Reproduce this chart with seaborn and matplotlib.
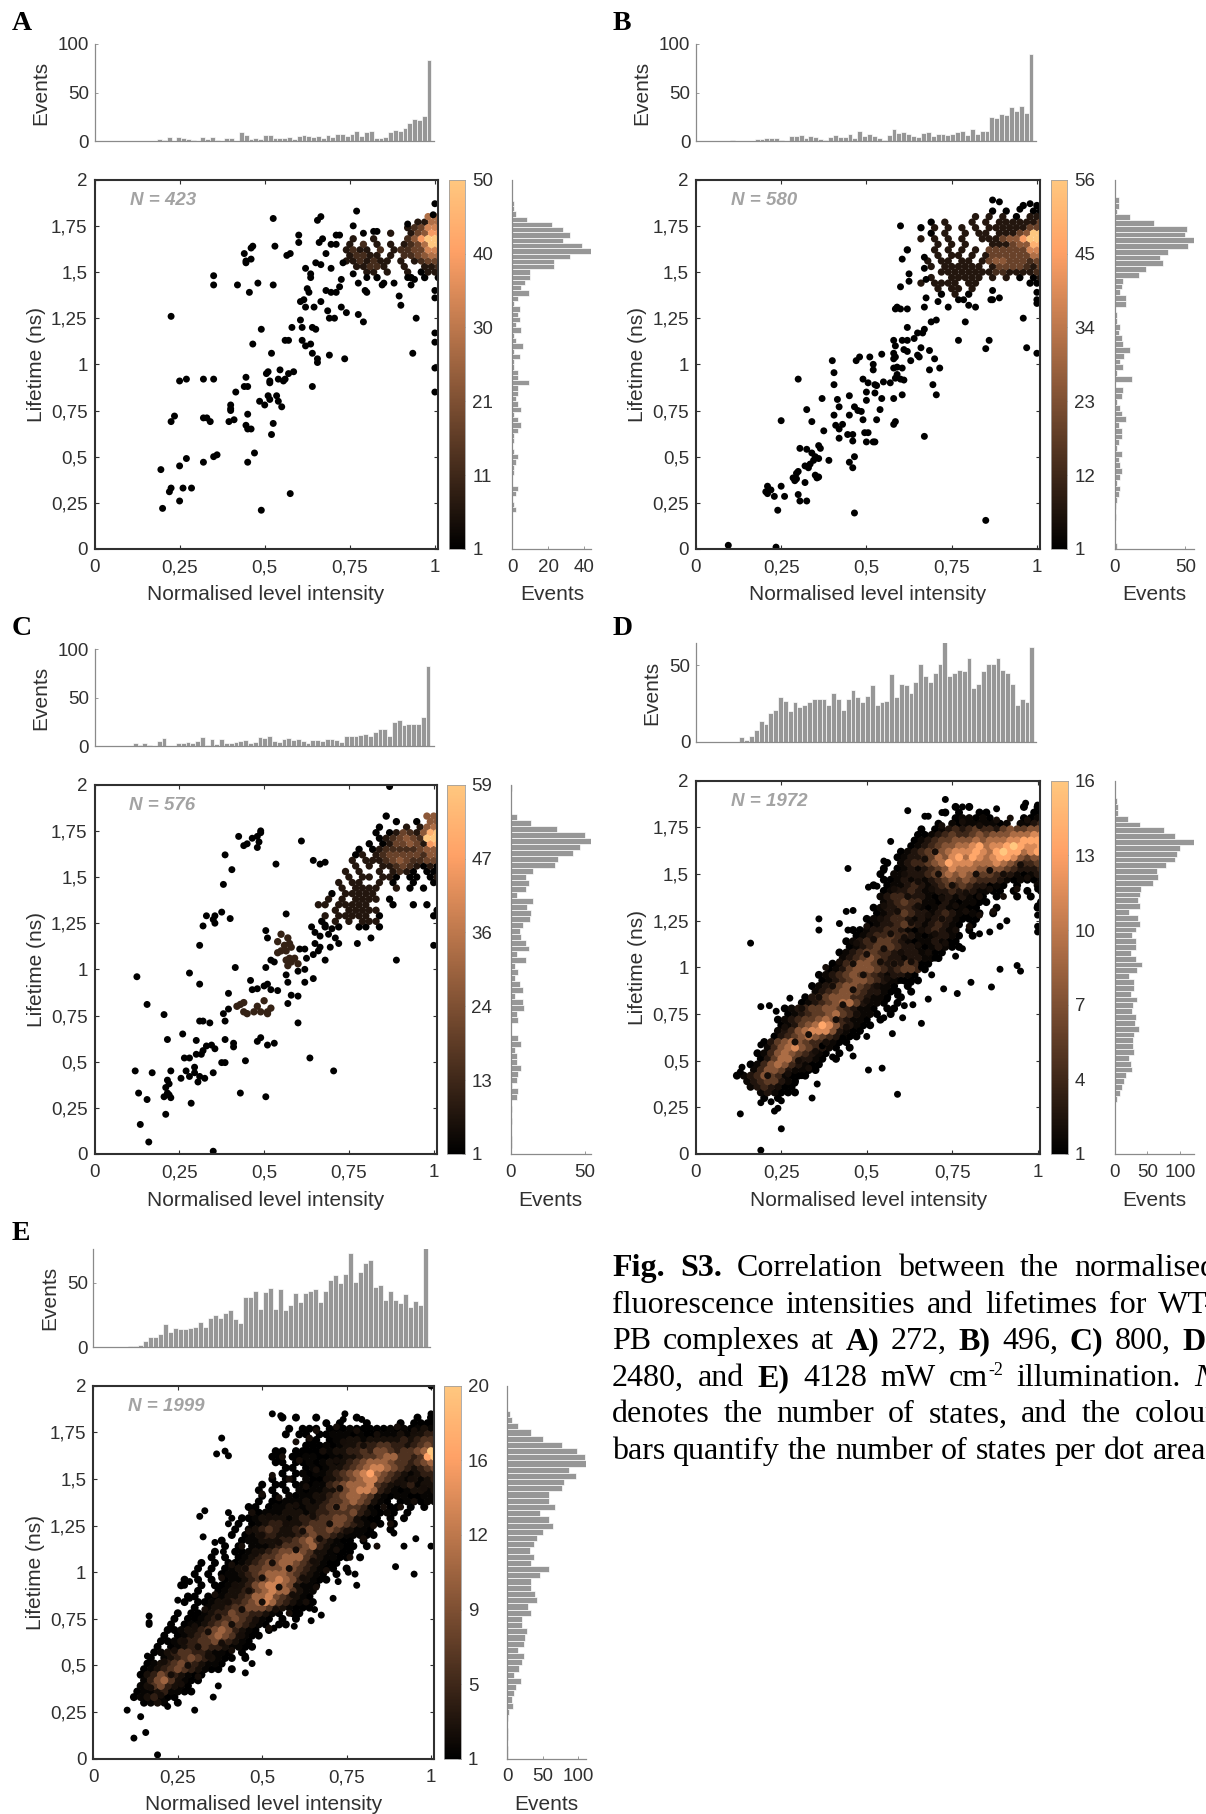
import numpy as np
import matplotlib
matplotlib.use("Agg")
import matplotlib.pyplot as plt
import seaborn as sns

W, H = 1206, 1814
sns.set_style("ticks")
plt.rcParams['font.family'] = ['Liberation Sans', 'DejaVu Sans']
DARK = '#303030'
BAR = '#979797'

X_TICKS = [0, .25, .5, .75, 1]
X_LABELS = ['0', '0,25', '0,5', '0,75', '1']
Y_TICKS = [0, .25, .5, .75, 1, 1.25, 1.5, 1.75, 2]
Y_LABELS = ['0', '0,25', '0,5', '0,75', '1', '1,25', '1,5', '1,75', '2']

# ---- top histograms (events per intensity bin, first bin at 0) ----
A_top = [0]*13 + [2,1,4,0,4,3,2,1,0,4,2,4,1,0,3,3,0,9,6,2,3,2,6,6,3,3,3,4,2,5,6,5,4,5,3,6,4,7,7,5,7,11,5,9,11,3,3,4,9,12,11,14,19,23,22,26,84]
B_top = [0]*7 + [1,0,0,0,0,2,2,3,3,3,1,0,5,5,6,3,5,4,2,1,4,6,4,4,7,3,11,5,7,5,3,1,6,13,8,9,7,5,4,8,9,5,7,7,6,7,9,11,6,13,7,10,10,25,24,28,27,35,31,36,29,90]
C_top = [0]*8 + [3,1,3,1,0,5,8,0,0,3,3,4,3,5,9,1,7,2,7,3,3,4,5,6,3,4,9,8,10,5,4,7,8,6,7,5,3,6,6,5,7,7,6,4,11,10,11,12,13,11,15,18,18,11,25,27,22,23,23,23,30,82]
D_top = [0]*9 + [3,1,4,8,14,12,19,21,29,27,20,26,23,24,26,28,28,28,24,32,28,21,28,34,29,26,30,37,24,26,27,44,29,38,37,32,39,51,43,39,45,51,65,43,45,47,46,55,35,38,46,51,51,55,47,45,38,24,28,26,62]
E_top = [0]*7 + [1,1,2,5,8,8,10,18,12,15,14,14,15,16,20,16,23,25,23,27,29,22,19,39,39,44,30,43,46,30,45,29,33,42,35,42,44,45,35,44,52,56,50,57,73,51,58,65,68,47,48,37,44,37,34,41,31,36,33,77]

# ---- right histograms (events per lifetime bin, listed from 2 ns downward) ----
A_right = [0,0,0,0,1,1,2,8,22,28,32,28,39,44,32,23,23,10,10,7,5,9,3,1,4,3,4,2,5,1,2,6,1,4,1,1,3,3,9,3,3,2,3,5,1,3,5,3,1,1,0,1,3,2,1,1,0,0,3,2,0,1,2,0,0,0,0,0,0,0]
B_right = [0,0,0,3,3,2,11,28,51,50,56,52,38,32,34,22,17,6,5,4,8,8,0,2,2,4,3,5,6,11,7,4,6,2,12,0,6,5,2,4,5,8,3,5,5,3,2,5,3,4,5,4,2,4,3,2,1,0,1,0,0,0,0,2]
C_right = [1,0,0,0,0,4,14,31,50,54,47,42,32,30,15,10,12,10,4,15,11,14,13,8,6,7,10,12,4,10,3,5,3,6,8,3,8,9,4,5,0,0,5,7,3,4,4,7,5,4,1,5,4,0,1,0,1,0,0,1,1,0]
D_right = [0,0,0,3,5,5,20,38,75,92,121,100,95,92,78,65,66,59,40,38,36,39,22,35,39,32,27,32,32,25,32,42,34,22,30,30,25,34,28,27,33,31,37,29,28,28,30,22,25,26,18,14,12,8,3,1,1,1,0,1,0,0,1,0]
E_right = [0,0,0,0,4,6,15,33,50,77,98,109,110,87,96,80,77,58,59,67,46,59,64,50,42,37,32,38,33,59,46,33,34,39,42,29,34,20,20,28,25,23,15,24,20,16,9,19,12,9,6,8,2,1,0,1,1,0,1,1]

# ---- isolated states (intensity, lifetime) ----
A_pts = [(1.0,1.87),(.995,1.81),(.77,1.83),(.525,1.79),(.665,1.80),(.655,1.78),(.76,1.75),(.92,1.76),(.83,1.72),(.82,1.72),(.60,1.70),(.60,1.66),(.66,1.66),(.67,1.68),(.79,1.71),(.71,1.70),(.72,1.70),(.695,1.65),(.71,1.65),(.53,1.64),(.46,1.63),(.465,1.64),(.44,1.60),(.46,1.57),(.445,1.56),(.445,1.55),(.565,1.59),(.575,1.60),(.68,1.60),(.62,1.52),(.635,1.49),(.635,1.47),(.65,1.55),(.665,1.54),(.695,1.52),(.35,1.48),(.35,1.43),(.42,1.43),(.455,1.39),(.48,1.44),(.525,1.43),(.625,1.41),(.63,1.39),(.68,1.40),(.695,1.39),(.71,1.39),(.72,1.42),(.725,1.46),(.73,1.55),(.775,1.44),(.76,1.49),(.80,1.47),(.80,1.39),(.795,1.40),(.85,1.44),(.845,1.43),(.88,1.44),(.90,1.32),(.895,1.37),(.93,1.43),(.92,1.47),(.94,1.46),(1.0,1.40),(1.0,1.36),(.605,1.34),(.615,1.35),(.62,1.31),(.645,1.31),(.665,1.34),(.685,1.29),(.69,1.25),(.705,1.25),(.725,1.31),(.74,1.28),(.775,1.27),(.79,1.23),(.945,1.25),(.225,1.26),(.49,1.19),(.58,1.20),(.605,1.24),(.61,1.20),(.64,1.20),(.65,1.19),(.465,1.11),(.56,1.13),(.57,1.13),(.61,1.13),(.62,1.10),(.635,1.11),(.64,1.06),(.655,1.03),(.655,1.01),(.69,1.05),(.735,1.03),(.52,1.06),(.935,1.06),(1.0,1.17),(1.0,1.12),(1.0,.98),(1.0,.85),(.545,.97),(.51,.96),(.505,.95),(.585,.96),(.57,.95),(.56,.92),(.515,.91),(.515,.90),(.54,.92),(.555,.91),(.25,.91),(.27,.92),(.32,.92),(.35,.92),(.445,.93),(.44,.88),(.45,.88),(.415,.85),(.64,.88),(.51,.83),(.515,.81),(.535,.83),(.54,.80),(.485,.80),(.50,.78),(.55,.77),(.40,.78),(.40,.76),(.40,.75),(.225,.69),(.235,.72),(.32,.71),(.33,.71),(.34,.69),(.395,.69),(.41,.70),(.45,.73),(.445,.67),(.46,.65),(.45,.65),(.525,.68),(.52,.62),(.47,.52),(.45,.47),(.36,.51),(.35,.50),(.32,.47),(.27,.49),(.25,.45),(.195,.43),(.225,.33),(.26,.33),(.285,.33),(.22,.31),(.25,.26),(.20,.22),(.575,.30),(.49,.21)]
B_pts = [(.095,.02),(.235,.01),(.85,.155),(.465,.195),(.24,.21),(.21,.34),(.205,.31),(.21,.30),(.22,.32),(.25,.34),(.23,.285),(.26,.285),(.30,.295),(.305,.26),(.325,.26),(.285,.385),(.29,.37),(.295,.38),(.30,.42),(.295,.41),(.32,.36),(.32,.45),(.33,.44),(.335,.46),(.345,.48),(.35,.40),(.355,.385),(.36,.39),(.39,.48),(.45,.47),(.46,.44),(.465,.50),(.305,.545),(.325,.54),(.34,.52),(.35,.50),(.36,.49),(.36,.56),(.365,.545),(.375,.64),(.25,.695),(.34,.69),(.325,.755),(.30,.92),(.37,.815),(.405,.89),(.405,.955),(.40,1.02),(.405,.725),(.415,.81),(.42,.77),(.41,.67),(.42,.65),(.43,.675),(.42,.60),(.445,.62),(.46,.62),(.46,.585),(.45,.83),(.45,.725),(.465,.77),(.475,.75),(.485,.745),(.49,.70),(.495,.63),(.505,.63),(.50,.58),(.52,.58),(.525,.58),(.50,.805),(.50,.85),(.525,.845),(.53,.70),(.54,.755),(.545,.815),(.58,.675),(.585,.69),(.58,.815),(.605,.835),(.67,.61),(.49,.92),(.505,.90),(.525,.89),(.53,.885),(.55,.905),(.57,.90),(.585,.925),(.59,.945),(.60,.92),(.61,.915),(.58,.98),(.59,.985),(.605,.98),(.52,.97),(.52,1.0),(.51,1.04),(.47,1.02),(.48,1.04),(.545,1.055),(.58,1.06),(.585,1.04),(.58,1.03),(.585,1.10),(.58,1.13),(.605,1.13),(.62,1.13),(.61,1.08),(.62,1.07),(.65,1.05),(.64,1.14),(.63,1.02),(.655,1.04),(.66,1.09),(.685,1.075),(.70,1.03),(.685,.97),(.715,.98),(.695,.89),(.705,.835),(.65,1.17),(.665,1.17),(.67,1.19),(.69,1.23),(.705,1.24),(.62,1.20),(.60,1.30),(.585,1.30),(.59,1.31),(.62,1.30),(.67,1.31),(.675,1.36),(.71,1.34),(.60,1.42),(.60,1.75),(.605,1.57),(.625,1.49),(.625,1.45),(.675,1.46),(.67,1.52),(.67,1.58),(.74,1.31),(.77,1.13),(.79,1.23),(.82,1.31),(.85,1.085),(.86,1.13),(.96,1.25),(.97,1.09),(1.0,1.06),(1.0,1.33),(1.0,1.35),(1.0,1.39),(.87,1.35),(.865,1.35),(.89,1.36),(.87,1.4),(.77,1.35),(.785,1.35),(.80,1.32),(.87,1.89),(.89,1.88),(.98,1.87),(.95,1.84)]
C_pts = [(.87,1.99),(.35,.015),(.16,.065),(.135,.16),(.21,.215),(.13,.33),(.155,.295),(.205,.31),(.22,.32),(.225,.305),(.215,.33),(.21,.36),(.215,.40),(.22,.38),(.285,.275),(.43,.33),(.505,.31),(.635,.52),(.705,.45),(.12,.45),(.17,.44),(.225,.45),(.255,.41),(.265,.52),(.28,.52),(.27,.45),(.28,.42),(.295,.47),(.295,.44),(.305,.39),(.31,.42),(.325,.41),(.35,.44),(.30,.54),(.315,.54),(.32,.56),(.33,.585),(.345,.59),(.355,.57),(.375,.495),(.385,.495),(.445,.505),(.26,.65),(.30,.615),(.215,.62),(.385,.62),(.41,.60),(.41,.58),(.48,.61),(.49,.63),(.51,.59),(.53,.60),(.205,.755),(.155,.81),(.125,.96),(.31,.72),(.32,.72),(.34,.71),(.38,.76),(.385,.72),(.395,.785),(.395,.87),(.46,.94),(.465,.89),(.48,.895),(.50,.91),(.51,.92),(.52,.89),(.54,.885),(.57,.815),(.58,.86),(.60,.855),(.60,.71),(.415,1.01),(.28,.98),(.31,.92),(.31,1.13),(.32,1.235),(.33,1.29),(.35,1.27),(.355,1.25),(.355,1.29),(.375,1.31),(.40,1.275),(.38,1.46),(.405,1.54),(.385,1.62),(.425,1.72),(.44,1.67),(.45,1.68),(.465,1.71),(.48,1.72),(.485,1.69),(.49,1.75),(.49,1.74),(.48,1.66),(.535,1.57),(.505,1.21),(.51,1.17),(.565,1.30),(.61,1.695),(.645,1.59),(.665,1.57),(.68,1.58),(.505,1.01),(.52,1.05),(.53,1.04),(.57,.93),(.565,.97),(.60,.99),(.62,.93),(.62,1.0),(.645,.95),(.625,1.06),(.62,1.11),(.605,1.11),(.64,1.23),(.65,1.2),(.645,1.08),(.65,1.14),(.665,1.12),(.66,1.1),(.68,1.05),(.695,1.12),(.72,1.14),(.665,1.18),(.68,1.24),(.69,1.19),(.70,1.22),(.71,1.17),(.775,1.14),(.815,1.17),(.89,1.05),(1.0,1.13)]
D_pts = [(.16,1.13),(.445,1.53),(.36,1.26),(.36,1.2),(.42,1.235),(.44,1.3),(.46,1.305),(.445,1.2),(.57,1.675),(.505,1.43),(.53,1.435),(.55,1.57),(.55,1.52),(.62,1.84),(.67,1.81),(.68,1.81),(.72,1.83),(.88,1.85),(.94,1.01),(.95,.98),(.89,.99),(.805,.92),(.865,.895),(.765,.86),(.725,.885),(.68,.83),(.66,.70),(.635,.80),(.61,.795),(.605,.73),(.59,.32),(.545,.46),(.505,.45),(.46,.525),(.575,.645),(.34,.3),(.355,.375),(.25,.135),(.19,.02),(.13,.215),(.19,.275),(.22,.28),(.23,.23),(.24,.245),(.25,.285),(.19,.585),(.19,.79),(.215,.795),(.235,.765),(.275,.835),(.13,.44),(.135,.465),(1.0,1.87),(.965,1.88),(1.0,1.19),(1.0,1.22),(1.0,1.28),(1.0,1.33),(1.0,1.42),(.91,1.25),(.89,1.22),(.86,1.19),(.83,1.18),(.78,1.1),(.76,1.06),(.70,1.05),(.66,1.0),(.69,.96),(.63,.92),(.60,.93),(.59,.85),(.56,.83),(.55,.73),(.50,.63),(.48,.66),(.43,.62),(.40,.52),(.37,.58),(.34,.47),(.31,.42),(.29,.38),(.73,1.90),(.78,1.86),(.80,1.86)]
E_pts = [(.10,.26),(.14,.225),(.12,.11),(.155,.14),(.19,.02),(.30,.26),(.355,.33),(.37,.39),(.22,.28),(.16,.55),(.165,.765),(.165,.73),(.165,.72),(.38,1.72),(.365,1.635),(.39,1.65),(.40,1.625),(.315,1.30),(.33,1.33),(.40,1.32),(.41,1.29),(.40,1.26),(.325,1.19),(.36,1.16),(.385,1.11),(.53,1.85),(.555,1.84),(.745,1.85),(.74,1.82),(.795,1.82),(1.0,2.0),(1.0,1.85),(1.0,1.14),(.95,.99),(.895,1.03),(.92,1.14),(.955,1.18),(.89,1.21),(.78,.93),(.71,.86),(.775,.99),(.755,1.0),(.725,.95),(.675,.77),(.655,.80),(.645,.74),(.60,.76),(.595,.71),(.535,.70),(.52,.57),(.45,.46),(.47,.51),(.45,.55),(.27,.93),(.285,.95),(.285,.86),(.25,.85)]

# ---- states in Panel C's mid-range groups, dark brown in the reference ----
C_warm = [(.54,1.15),(.55,1.1),(.56,1.13),(.565,1.1),(.57,1.17),(.575,1.14),(.55,1.19),(.58,1.12),(.54,1.09),(.42,.80),(.43,.81),(.44,.82),(.44,.77),(.45,.76),(.47,.77),(.48,.80),(.49,.77),(.51,.77),(.52,.79),(.50,.83),(.51,.76),(.565,1.05),(.57,1.02),(.575,1.06),(.58,1.04),(.59,1.06),(.60,1.03)]

# ---- near-black states lying inside the crowded bands of Panels D and E ----
D_dark = [(.21,.42),(.24,.36),(.27,.43),(.30,.50),(.33,.46),(.35,.55),(.29,.60),(.26,.68),(.33,.64),(.38,.60),(.41,.72),(.44,.68),(.31,.78),(.36,.84),(.40,.90),(.43,.80),(.47,.75),(.46,.88),(.50,.82),(.38,1.0),(.42,1.03),(.46,1.02),(.49,.96),(.53,.90),(.56,.94),(.50,1.07),(.54,1.03),(.58,1.02),(.47,1.13),(.52,1.15),(.55,1.10),(.60,1.08),(.63,1.03),(.50,1.22),(.54,1.26),(.57,1.18),(.61,1.16),(.65,1.12),(.68,1.08),(.55,1.33),(.59,1.30),(.63,1.24),(.66,1.20),(.70,1.18),(.73,1.13),(.58,1.42),(.62,1.38),(.65,1.33),(.68,1.28),(.72,1.26),(.76,1.20),(.80,1.22),(.61,1.50),(.65,1.46),(.69,1.42),(.72,1.37),(.76,1.33),(.79,1.30),(.83,1.28),(.87,1.30),(.67,1.58),(.71,1.50),(.75,1.44),(.79,1.40),(.83,1.38),(.86,1.42),(.90,1.38),(.94,1.42),(.97,1.48),(.72,1.76),(.78,1.78),(.83,1.76),(.88,1.79),(.92,1.80),(.97,1.79),(.70,1.62),(.82,1.50),(.90,1.50),(.95,1.55),(.86,1.52)]
E_dark = [(.17,.38),(.20,.34),(.23,.45),(.26,.40),(.21,.52),(.24,.58),(.28,.50),(.31,.44),(.27,.63),(.31,.60),(.34,.55),(.30,.71),(.34,.68),(.38,.62),(.41,.58),(.33,.80),(.37,.76),(.41,.72),(.44,.66),(.36,.88),(.40,.84),(.44,.80),(.48,.74),(.52,.70),(.38,.97),(.42,.93),(.46,.90),(.50,.84),(.54,.80),(.58,.78),(.41,1.04),(.45,1.02),(.50,.97),(.55,.92),(.59,.88),(.63,.84),(.44,1.14),(.48,1.10),(.53,1.05),(.58,1.02),(.62,.97),(.66,.92),(.46,1.22),(.50,1.20),(.55,1.16),(.60,1.12),(.65,1.06),(.69,1.01),(.47,1.32),(.52,1.30),(.57,1.26),(.62,1.22),(.67,1.18),(.72,1.12),(.76,1.08),(.50,1.42),(.55,1.40),(.60,1.36),(.65,1.30),(.70,1.26),(.75,1.22),(.80,1.18),(.84,1.14),(.53,1.52),(.58,1.50),(.63,1.46),(.68,1.40),(.72,1.35),(.78,1.28),(.83,1.25),(.88,1.26),(.56,1.62),(.61,1.60),(.66,1.55),(.69,1.50),(.73,1.45),(.86,1.35),(.91,1.35),(.95,1.38),(.60,1.70),(.64,1.72),(.68,1.65),(.72,1.60),(.90,1.48),(.94,1.50),(.98,1.45),(.66,1.76),(.72,1.78),(.78,1.76),(.84,1.74),(.90,1.78),(.95,1.76),(.74,1.70),(.80,1.68)]

# ---- crowded regions: colour level 0-9 per cell, '.' = empty, rows descend from y_top ----
A_cells = ["............55","..........1155",".........12366","......1..13477",".1..1....24799","1.2.1.1.123599","1211.2.1223366","12211.1.223455","1121211.1.1233",".11221..1..112","...11.1..1.011","....0....0.0.0"]
B_cells = [".................0.0","............0.0...00","..........1.1.1.0.11","...0.1...1.1.1111113","..0.1.1.1.1.11111133","...0.1..1.11.1113499","..1.1.1.1..111344799","....1.1.1...11134488","0...1.1.1.1.33333366","....1.11.1.133333355","...1.11.11.134433323","...1.111111.13333213",".....111111112211112","...1..11111.1.1.0.01","..1.1111.11.......00","....1.11.1..........",".....0.1.0.........."]
C_cells = ["..........0.....44","...........0..0.44",".........0...1.145","........0.01321489",".........012343299",".......0.013343178","......0.0122222344",".....01.1233333244",".....1.11123432233",".....1.1.112321010","....1.1..1.1210.00","....1.11.110.00.01","...1.11..1.0..0..0","...1.1111..1.0.0..","..0.11111.........",".1.1.1111.0.......","11.11111...0..0.0.","..1.11111........0",".1.11111.0.......0","0.1.1.111.........",".0.0..00.0........"]
D_cells = ["||.........|.....0.0.|......0.0","||.........|...0.0..0|0......00","||.........|.....0110|10....001","||.........|..0.10111|1101.1123","||.........|0.0123234|332454455","||........0|012343345|455566677","||........0|123445556|566677888","||.......01|234556678|677898778","||......012|345567778|768988678","||.....0122|346578687|678875455","||....0.123|345687776|667654334","||...0.0121|234576665|555432223","||...0.1122|234565654|443321012","||...001212|123454543|332101001","||..0.01123|212343432|2010.0..1","||...012232|112232321|100.0.0.0","||...123322|210121210|0.0..0.0.","||...123433|110210110|0.......0","||..0122332|101210100|..0.....0","||..0123432|212321010|.0.......","||.01123321|212321000","||.01223432|123210.0.","|........0|012233210|123210.0.","|........0|123343321|012210.0.","|.......01|233443210|112100...","|.......01|234443221|012100...","|......012|344332122|1100.....","|......123|454322122|110......","|.....0134|554323243|00.......","|....01245|554323443|0........","|...012345|443212210","|...012345|543211000","|..0123455|432110.0.","|..1234554|322100.0.","|.02345553|32110.0..","|012345664|2110.0...",".......01|234455432|110.00...",".......01|234456432|110.0....","......012|344565321|10.0.....","......012|456875321|00.......","......123|567775210|0........",".....0234|565432100","....02456|54332100.","....13567|543210.0.","...013565|43210.0..","...024664|2210.0...","..0135653|2100.....","..1355421|100......","012354310|00.......",".12344210","..1232100","...121000","....0.0.."]
E_cells = ["||....0.0..|0.....0..|......0.0","||.........|.0.0...0.|...0.0000","||.....0.00|0.0001000|001010121","||....0.00.|001110100|111212233","||........0|0.0112212|222232344","||.......00|010122333|443323454","||...00.000|011223343|554344569","||..00.0011|001122344|566443489","||...00.001|012123456|665443456","||....00.01|012234567|765432345","||....0.010|112345678|654321233","||..0.00.10|012345677|543212123","||.0.00.010|113456667|432123122","||0.0.0.101|122456776|321012212","||.0.0.1011|223456654|210110011","||0.0011121|234456542|10.010011","|........0|0.0112112|234554431|0.00.0.0.","|........0|011122212|334445321|010.0....","|.......00|122221233|344554210|0.0.0....","|......0.0|123322234|445543210|0.0......","|......0.1|234322345|445432110|..0......","|.....0.01|233222345|443211100","|....0..01|122233456|432100.0.","|....0.0.1|112344456|321100.0.","|...0..001|223455654|221000...","|..0.0.012|344566643|21100.0..","|.0.0.0012|345566543|2100.....","|0.0.01234|455565432|100.0....","|0.0.01123|456665432|10.0.....",".......0.|0.0.01123|456765321|00.......",".......0.|.0.001223|567765211|0........","|0..012233|567664211","........0|0.0012234|667543210",".......0.|001223345|676432100","|0.1223445|554321000","......0.0|012335443|3210.00..","......0.0|012344543|210.0.0..",".....0.01|123454432|10.00....",".....0012|234565321|0.0......","....0.012|345654210|0........","....00123|344543210","...0.0123|343321100","...012344|332110.0.","..0.12345|432100.0.","..0123454|32110....",".01234543|2100.0...",".02354321|00.......",".13564210|0........",".12453210","011231100","0123100..",".0121.0.."]

A_ticks = ['1', '11', '21', '30', '40', '50']
B_ticks = ['1', '12', '23', '34', '45', '56']
C_ticks = ['1', '13', '24', '36', '47', '59']
D_ticks = ['1', '4', '7', '10', '13', '16']
E_ticks = ['1', '5', '9', '12', '16', '20']

panels = [
    dict(letter='A', lx=12, ly=30, n='N = 423', pts=A_pts, warm=[], dark=[], cells=A_cells, x0=.74, ytop=1.80, gamma=1.0, cs=28, top=A_top, right=A_right, cb=A_ticks, vmax=50,
         sc=(94.5, 437.7, 179.7, 549), cbx=(448.5, 465.3), rh=(512.4, 591.3), rh_max=44, rh_t=[0, 20, 40],
         th=(94.5, 433.8, 44, 141.2), th_max=100, th_t=[0, 50, 100]),
    dict(letter='B', lx=613, ly=30, n='N = 580', pts=B_pts, warm=[], dark=[], cells=B_cells, x0=.62, ytop=1.86, gamma=1.0, cs=28, top=B_top, right=B_right, cb=B_ticks, vmax=56,
         sc=(695.9, 1039.7, 179.7, 549), cbx=(1050.7, 1067.4), rh=(1114.6, 1193.7), rh_max=56, rh_t=[0, 50],
         th=(695.9, 1035.9, 44, 141.2), th_max=100, th_t=[0, 50, 100]),
    dict(letter='C', lx=12, ly=635, n='N = 576', pts=C_pts, warm=C_warm, dark=[], cells=C_cells, x0=.66, ytop=1.83, gamma=1.0, cs=28, top=C_top, right=C_right, cb=C_ticks, vmax=59,
         sc=(94.5, 436.5, 784.7, 1154), cbx=(447.4, 464.5), rh=(510.8, 590.5), rh_max=54, rh_t=[0, 50],
         th=(94.5, 433.8, 649, 746.2), th_max=100, th_t=[0, 50, 100]),
    dict(letter='D', lx=613, ly=635, n='N = 1972', pts=D_pts, warm=[], dark=D_dark, cells=D_cells, x0=.12, ytop=1.86, gamma=1.5, cs=33, top=D_top, right=D_right, cb=D_ticks, vmax=16,
         sc=(695.9, 1040.4, 780.8, 1154), cbx=(1050.7, 1067.8), rh=(1114.6, 1194), rh_max=121, rh_t=[0, 50, 100],
         th=(695.9, 1035.9, 643, 742), th_max=64.5, th_t=[0, 50]),
    dict(letter='E', lx=12, ly=1240, n='N = 1999', pts=E_pts, warm=[], dark=E_dark, cells=E_cells, x0=.12, ytop=1.83, gamma=1.7, cs=33, top=E_top, right=E_right, cb=E_ticks, vmax=20,
         sc=(93.4, 433.8, 1385.9, 1758.6), cbx=(444.3, 461), rh=(507.3, 585.5), rh_max=110, rh_t=[0, 50, 100],
         th=(93.4, 429.9, 1248.6, 1347.4), th_max=76.5, th_t=[0, 50]),
]

fig = plt.figure(figsize=(W/100, H/100), dpi=100, facecolor='white')


def axes_px(l, r, t, b):
    return fig.add_axes([l/W, 1-b/H, (r-l)/W, (b-t)/H])


def style_hist(ax, size=13.5):
    for s in ('top', 'right'):
        ax.spines[s].set_visible(False)
    for s in ('left', 'bottom'):
        ax.spines[s].set_color('#8a8a8a')
        ax.spines[s].set_linewidth(0.9)
    ax.tick_params(direction='in', length=2.5, width=0.6, color='#8a8a8a', labelsize=size, labelcolor=DARK, pad=4)
    ax.tick_params(axis='x', pad=7)


def cell_points(rows, x0, ytop, vmax, gamma):
    xs, ys, vs = [], [], []
    for i, row in enumerate(rows):
        text = ''.join(g.ljust(9, '.') for g in row.split('|'))
        for j, ch in enumerate(text):
            if ch != '.':
                xs.append(x0 + j*.02 + (.01 if i % 2 else 0))
                ys.append(ytop - i*.03)
                vs.append(1 + (int(ch)/9)**gamma*(vmax-1))
    return xs, ys, vs


for p in panels:
    L, R, T, B = p['sc']
    xmax = (R-L)/(R-L-2.8)
    vmax = p['vmax']

    # scatter: crowded cells first, then the isolated and near-black states on top
    ax = axes_px(L, R, T, B)
    cx, cy, cv = cell_points(p['cells'], p['x0'], p['ytop'], vmax, p['gamma'])
    cx += [q[0] for q in p['warm']]
    cy += [q[1] for q in p['warm']]
    cv += [1 + .17*(vmax-1)]*len(p['warm'])
    order = np.argsort(cv, kind='stable')
    sns.scatterplot(x=np.array(cx)[order], y=np.array(cy)[order], hue=np.array(cv)[order],
                    hue_norm=(1, vmax), palette='copper', s=p['cs'], linewidth=0, legend=False, ax=ax)
    xs = [q[0] for q in p['pts']] + [q[0] for q in p['dark']]
    ys = [q[1] for q in p['pts']] + [q[1] for q in p['dark']]
    vs = [1.0]*len(p['pts']) + [1 + .07*(vmax-1)]*len(p['dark'])
    sns.scatterplot(x=xs, y=ys, hue=vs, hue_norm=(1, vmax), palette='copper', s=25, linewidth=0, legend=False, ax=ax)
    ax.set_xlim(0, xmax)
    ax.set_ylim(0, 2)
    ax.set_xticks(X_TICKS, X_LABELS)
    ax.set_yticks(Y_TICKS, Y_LABELS)
    ax.tick_params(direction='in', length=3, width=0.8, top=True, right=True, color=DARK,
                   labelsize=13.5, labelcolor=DARK, pad=5)
    ax.tick_params(axis='x', pad=7.5)
    for s in ax.spines.values():
        s.set_color(DARK)
        s.set_linewidth(1.5)
    ax.set_xlabel('Normalised level intensity', fontsize=15, color=DARK)
    ax.xaxis.set_label_coords(.5, -46/(B-T))
    ax.xaxis.label.set_va('center')
    ax.set_ylabel('Lifetime (ns)', fontsize=15, color=DARK)
    ax.yaxis.set_label_coords(-58/(R-L), .5)
    ax.yaxis.label.set_va('center')
    ax.text(.103, 1.89, p['n'], fontsize=13.5, fontweight='bold', fontstyle='italic', color='#a3a3a3', va='center')

    # colour bar
    cax = axes_px(p['cbx'][0], p['cbx'][1], T, B)
    sm = plt.cm.ScalarMappable(norm=plt.Normalize(1, vmax), cmap='copper')
    cb = fig.colorbar(sm, cax=cax)
    cb.set_ticks(np.linspace(1, vmax, 6), labels=p['cb'])
    cb.ax.tick_params(direction='in', length=2, width=0.6, color=DARK, labelsize=13.5, labelcolor=DARK, pad=5)
    cb.outline.set_edgecolor('#a0a0a0')
    cb.outline.set_linewidth(0.6)

    # top histogram
    tl, tr, tt, tb = p['th']
    tax = axes_px(tl, tr, tt, tb)
    edges = np.linspace(0, .99, len(p['top'])+1)
    sns.histplot(x=(edges[:-1]+edges[1:])/2, weights=p['top'], bins=edges.tolist(), color=BAR, edgecolor='white',
                 linewidth=0.5, alpha=1, ax=tax)
    tax.set_xlim(0, (tr-tl)/(R-L-2.8))
    tax.set_ylim(0, p['th_max'])
    tax.set_xticks([])
    tax.set_yticks(p['th_t'])
    style_hist(tax)
    tax.set_xlabel('')
    tax.set_ylabel('Events', fontsize=15, color=DARK)
    tax.yaxis.set_label_coords(-(54 if p['th_max'] == 100 else 44)/(tr-tl), .5)
    tax.yaxis.label.set_va('center')

    # right histogram
    rl, rr = p['rh']
    rax = axes_px(rl, rr, T, B)
    n = len(p['right'])
    redges = np.linspace(0, 2, n+1)
    sns.histplot(y=(redges[:-1]+redges[1:])/2, weights=p['right'][::-1], bins=redges.tolist(), color=BAR, edgecolor='white',
                 linewidth=0.5, alpha=1, ax=rax)
    rax.set_ylim(0, 2)
    rax.set_xlim(0, p['rh_max'])
    rax.set_yticks([])
    rax.set_xticks(p['rh_t'])
    style_hist(rax)
    rax.set_ylabel('')
    rax.set_xlabel('Events', fontsize=15, color=DARK)
    rax.xaxis.set_label_coords(.5, -46/(B-T))
    rax.xaxis.label.set_va('center')

    fig.text(p['lx']/W, 1-p['ly']/H, p['letter'], fontsize=20, fontweight='bold', family='Liberation Serif', color='black')

# ---- caption: justified block whose right edge runs past the picture, as in the reference ----
caption_lines = [
    [('Fig.', 'b'), ('S3.', 'b'), ('Correlation', ''), ('between', ''), ('the', ''), ('normalised', '')],
    [('fluorescence', ''), ('intensities', ''), ('and', ''), ('lifetimes', ''), ('for', ''), ('WT-', '')],
    [('PB', ''), ('complexes', ''), ('at', ''), ('A)', 'b'), ('272,', ''), ('B)', 'b'), ('496,', ''), ('C)', 'b'), ('800,', ''), ('D)', 'b')],
    [('2480,', ''), ('and', ''), ('E)', 'b'), ('4128', ''), ('mW', ''), ('cm', ''), ('-2', 's'), ('illumination.', ''), ('N', 'i')],
    [('denotes', ''), ('the', ''), ('number', ''), ('of', ''), ('states,', ''), ('and', ''), ('the', ''), ('colour', '')],
    [('bars', ''), ('quantify', ''), ('the', ''), ('number', ''), ('of', ''), ('states', ''), ('per', ''), ('dot', ''), ('area.', '')],
]
renderer = fig.canvas.get_renderer()
COL_L, COL_R = 612, 1216
for k, line in enumerate(caption_lines):
    base = 1276 + 36.6*k
    items = []
    for word, kind in line:
        t = fig.text(0, 1-(base-(11 if kind == 's' else 0))/H, word, family='Liberation Serif',
                     fontsize=13 if kind == 's' else 23, color='black',
                     fontweight='bold' if kind == 'b' else 'normal',
                     fontstyle='italic' if kind == 'i' else 'normal')
        items.append((t, kind, t.get_window_extent(renderer).width))
    total = sum(i[2] for i in items)
    gaps = sum(1 for i in items if i[1] != 's') - 1
    gap = 8 if k == len(caption_lines)-1 else (COL_R-COL_L-total)/gaps
    x = COL_L
    for idx, (t, kind, w) in enumerate(items):
        if kind == 's':
            x -= gap
        t.set_x(x/W)
        x += w + gap

fig.savefig('out.png', dpi=100, facecolor='white')
